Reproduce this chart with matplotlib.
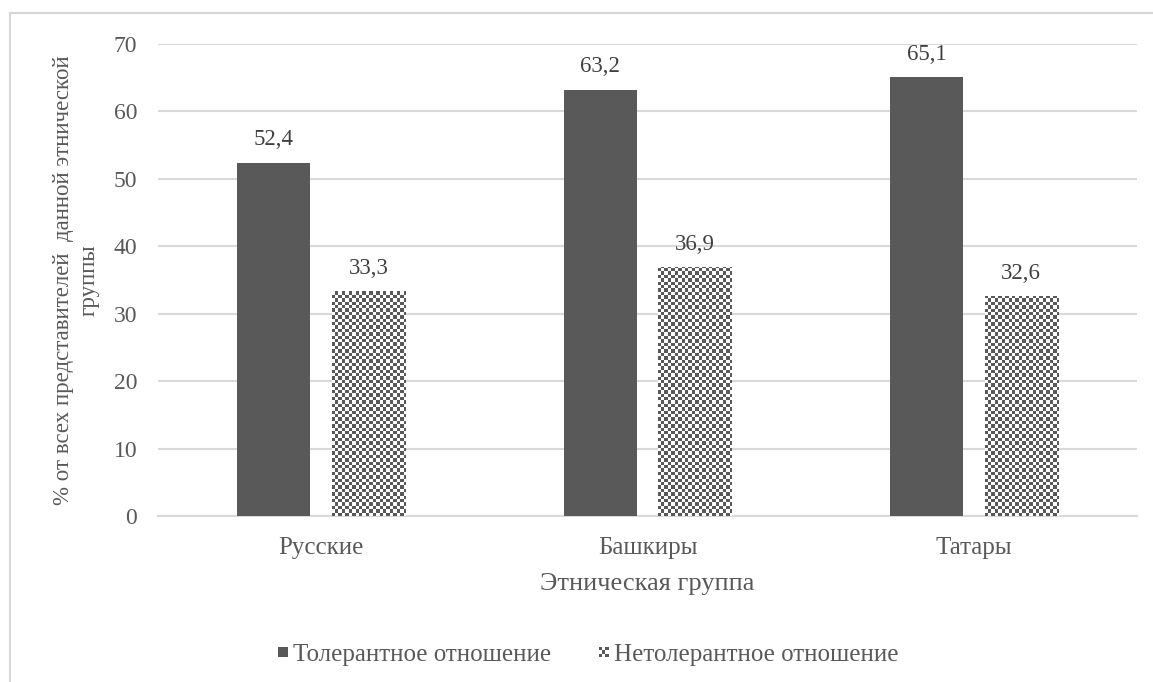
import numpy as np
import matplotlib
matplotlib.use("Agg")
import matplotlib.pyplot as plt
from matplotlib.patches import Rectangle
from matplotlib.legend_handler import HandlerBase

categories = ["Русские", "Башкиры", "Татары"]
tolerant = [52.4, 63.2, 65.1]
intolerant = [33.3, 36.9, 32.6]
series_names = ["Толерантное отношение", "Нетолерантное отношение"]
y_ticks = [0, 10, 20, 30, 40, 50, 60, 70]

DARK = "#595959"
TEXT = "#595959"
GRID = "#d9d9d9"
plt.rcParams["font.family"] = ["Liberation Serif", "DejaVu Serif"]

W, H = 1153, 682
fig = plt.figure(figsize=(W / 100, H / 100), dpi=100)
ax = fig.add_axes([158 / W, 1 - 516 / H, (1137 - 158) / W, (516 - 44) / H])

# outer frame of the chart area
frame = Rectangle((10 / W, -0.1), 1.2, 1.1 - 13 / H, transform=fig.transFigure,
                  fill=False, edgecolor="#d6d6d6", linewidth=1.5, zorder=0)
fig.add_artist(frame)

x = np.arange(len(categories))
bw = 0.224
off = 0.145

ax.bar(x - off, tolerant, bw, color=DARK, zorder=3)
checker_bars = ax.bar(x + off, intolerant, bw, color="none", edgecolor="none", zorder=3)

ax.set_xlim(-0.5, 2.5)
ax.set_ylim(0, 70)

# checkerboard fill for the second series
fig.canvas.draw()
bbox = ax.get_window_extent()
cell = 3.4
nx = int(bbox.width / cell) + 1
ny = int(bbox.height / cell) + 1
ii, jj = np.meshgrid(np.arange(nx), np.arange(ny))
pattern = ((ii + jj) % 2).astype(float)
for bar in checker_bars:
    im = ax.imshow(pattern, cmap=matplotlib.colors.ListedColormap(["white", DARK]),
                   interpolation="nearest", extent=[0, 1, 0, 1],
                   transform=ax.transAxes, aspect="auto", zorder=3)
    im.set_clip_path(bar)

ax.set_aspect("auto")
ax.set_xlim(-0.5, 2.5)
ax.set_ylim(0, 70)

for xs, vals in ((x - off, tolerant), (x + off, intolerant)):
    for xi, v in zip(xs, vals):
        ax.annotate(f"{v:.1f}".replace(".", ","), (xi, v), xytext=(0, 9),
                    textcoords="offset points", ha="center", va="bottom",
                    fontsize=16.5, color="#404040")

ax.set_yticks(y_ticks)
ax.set_xticks(x)
ax.set_xticklabels(categories)
ax.tick_params(axis="y", length=0, labelsize=17, colors=TEXT, pad=15)
ax.tick_params(axis="x", length=0, labelsize=18, colors=TEXT, pad=15)
ax.yaxis.grid(True, color=GRID, linewidth=1.5, zorder=0)
ax.set_axisbelow(True)
for s in ["top", "right", "left"]:
    ax.spines[s].set_visible(False)
ax.spines["bottom"].set_color(GRID)
ax.spines["bottom"].set_linewidth(1.5)

ax.set_xlabel("Этническая группа", fontsize=19, color=TEXT, labelpad=10)
ax.set_ylabel("% от всех представителей  данной этнической\nгруппы",
              fontsize=16.5, color=TEXT, labelpad=10, linespacing=1.3)


class CheckerHandler(HandlerBase):
    def create_artists(self, legend, orig_handle, xdescent, ydescent, width, height,
                       fontsize, trans):
        n = 3
        s = min(width, height)
        x0 = -xdescent + (width - s) / 2
        y0 = -ydescent + (height - s) / 2
        c = s / n
        arts = []
        for i in range(n):
            for j in range(n):
                if (i + j) % 2 == 0:
                    arts.append(Rectangle((x0 + i * c, y0 + j * c), c, c,
                                          facecolor=DARK, edgecolor="none", transform=trans))
        return arts


class SquareHandler(HandlerBase):
    def create_artists(self, legend, orig_handle, xdescent, ydescent, width, height,
                       fontsize, trans):
        s = min(width, height)
        x0 = -xdescent + (width - s) / 2
        y0 = -ydescent + (height - s) / 2
        return [Rectangle((x0, y0), s, s, facecolor=DARK, edgecolor="none", transform=trans)]


h1 = Rectangle((0, 0), 1, 1)
h2 = Rectangle((0, 0), 1, 1, facecolor="white")
fig.legend([h1, h2], series_names, loc="center", bbox_to_anchor=(588 / W, 1 - 655 / H),
           ncol=2, frameon=False, fontsize=18, labelcolor=TEXT,
           handler_map={h1: SquareHandler(), h2: CheckerHandler()},
           handlelength=0.4, handleheight=0.4, handletextpad=0.2, columnspacing=1.9)

fig.savefig("out.png", dpi=100)
